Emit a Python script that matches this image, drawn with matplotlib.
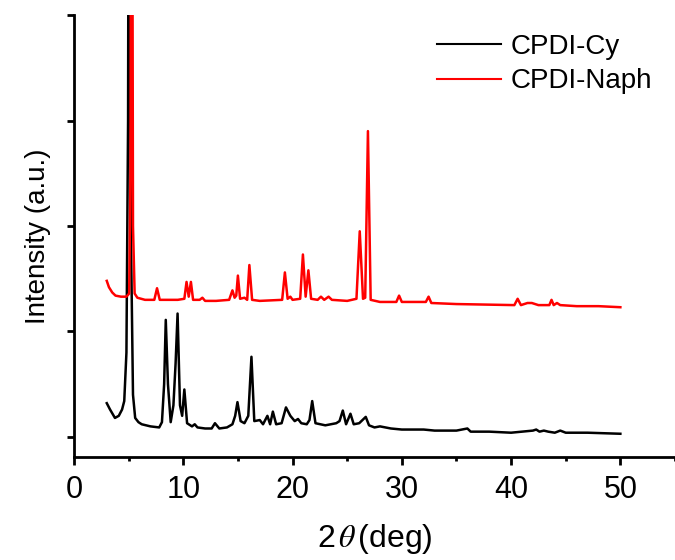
import matplotlib
matplotlib.use("Agg")
import matplotlib.pyplot as plt
from matplotlib.ticker import MultipleLocator, NullFormatter

plt.rcParams['font.family'] = ['Liberation Sans', 'DejaVu Sans']
plt.rcParams['mathtext.fontset'] = 'stix'

# -------------------------
# XRD patterns (2theta in deg, intensity in arb. offset units)
# -------------------------
cy_2theta = [3.0, 3.3, 3.75, 4.1, 4.4, 4.6, 4.8, 4.95, 5.05, 5.2, 5.4, 5.6, 5.9, 6.2, 7.0, 7.8,
             8.05, 8.25, 8.4, 8.6, 8.85, 9.1, 9.3, 9.48, 9.7, 9.9, 10.1, 10.35, 10.8, 11.05, 11.3,
             12.0, 12.6, 12.9, 13.3, 14.0, 14.5, 14.75, 14.96, 15.25, 15.6, 15.95, 16.24, 16.5,
             17.0, 17.3, 17.7, 17.95, 18.2, 18.5, 19.0, 19.4, 19.8, 20.2, 20.5, 20.8, 21.3, 21.55,
             21.8, 22.1, 23.0, 24.0, 24.3, 24.6, 24.9, 25.3, 25.6, 26.1, 26.7, 27.0, 27.5, 28.0,
             29.0, 30.0, 31.0, 32.0, 33.0, 34.0, 35.0, 36.0, 36.3, 38.0, 40.0, 42.0, 42.3, 42.6,
             43.0, 43.4, 44.0, 44.5, 45.0, 47.0, 50.0]
cy_int = [0.32, 0.26, 0.18, 0.20, 0.26, 0.34, 0.80, 3.00, 9.00, 2.00, 0.40, 0.18, 0.14, 0.12, 0.10, 0.09,
          0.14, 0.50, 1.11, 0.50, 0.14, 0.30, 0.70, 1.17, 0.30, 0.20, 0.45, 0.13, 0.10, 0.12, 0.09,
          0.08, 0.08, 0.13, 0.08, 0.09, 0.12, 0.20, 0.33, 0.15, 0.13, 0.20, 0.76, 0.15,
          0.16, 0.12, 0.20, 0.12, 0.24, 0.12, 0.13, 0.28, 0.20, 0.15, 0.17, 0.13, 0.12, 0.16,
          0.34, 0.13, 0.11, 0.13, 0.15, 0.25, 0.12, 0.22, 0.12, 0.13, 0.19, 0.11, 0.09, 0.10,
          0.08, 0.07, 0.07, 0.07, 0.06, 0.06, 0.06, 0.08, 0.05, 0.05, 0.04, 0.06, 0.07, 0.05,
          0.06, 0.05, 0.04, 0.06, 0.04, 0.04, 0.03]

naph_2theta = [3.0, 3.2, 3.5, 3.8, 4.3, 4.8, 5.05, 5.17, 5.27, 5.4, 5.55, 5.8, 6.5, 7.35, 7.6, 7.85,
               9.5, 10.1, 10.3, 10.5, 10.7, 10.9, 11.5, 11.75, 12.0, 13.0, 14.2, 14.5, 14.7, 14.85,
               15.0, 15.2, 15.6, 15.85, 16.05, 16.3, 17.0, 19.05, 19.3, 19.55, 19.8, 20.0, 20.7,
               20.95, 21.2, 21.45, 21.7, 22.3, 22.6, 22.9, 23.3, 23.6, 25.0, 25.85, 26.15, 26.45,
               26.65, 26.9, 27.15, 28.0, 29.5, 29.75, 30.0, 32.2, 32.45, 32.7, 35.0, 40.3, 40.6,
               40.9, 41.5, 41.9, 42.5, 43.5, 43.7, 43.9, 44.2, 44.5, 46.0, 48.0, 50.0]
naph_int = [1.48, 1.42, 1.37, 1.34, 1.33, 1.33, 1.36, 2.50, 9.00, 2.00, 1.36, 1.32, 1.30, 1.30, 1.41, 1.30,
            1.30, 1.31, 1.47, 1.33, 1.47, 1.30, 1.30, 1.32, 1.29, 1.29, 1.30, 1.39, 1.32, 1.34,
            1.53, 1.31, 1.32, 1.30, 1.63, 1.30, 1.29, 1.30, 1.56, 1.31, 1.33, 1.30, 1.31,
            1.73, 1.33, 1.58, 1.31, 1.30, 1.33, 1.30, 1.33, 1.30, 1.29, 1.31, 1.95, 1.31,
            1.32, 2.90, 1.30, 1.28, 1.28, 1.34, 1.28, 1.28, 1.33, 1.27, 1.26, 1.25, 1.31,
            1.25, 1.27, 1.27, 1.25, 1.25, 1.30, 1.25, 1.27, 1.25, 1.24, 1.24, 1.23]

fig = plt.figure(figsize=(6.75, 5.6), dpi=100)
ax = fig.add_axes([0.1096, 0.184, 0.8904, 0.789])

ax.plot(cy_2theta, cy_int, color='black', lw=1.8, label='CPDI-Cy')
ax.plot(naph_2theta, naph_int, color='#ff0000', lw=1.8, label='CPDI-Naph')

ax.set_xlim(0, 55)
ax.set_ylim(-0.19, 4)

for side in ['top', 'right']:
    ax.spines[side].set_visible(False)
for side in ['left', 'bottom']:
    ax.spines[side].set_linewidth(2.0)

ax.xaxis.set_major_locator(MultipleLocator(10))
ax.xaxis.set_minor_locator(MultipleLocator(5))
ax.yaxis.set_major_locator(MultipleLocator(1))
ax.yaxis.set_major_formatter(NullFormatter())
ax.tick_params(axis='x', which='major', length=6, width=2, labelsize=22, pad=7)
ax.tick_params(axis='x', which='minor', length=3, width=2)
ax.tick_params(axis='y', which='major', length=5, width=2)

ax.set_xlabel(r'2$\,\it{\theta}\,$(deg)', fontsize=23, labelpad=12)
ax.set_ylabel('Intensity (a.u.)', fontsize=20, labelpad=8)

leg = ax.legend(loc='upper right', bbox_to_anchor=(652 / 675, 1 - 34 / 560),
                bbox_transform=fig.transFigure, frameon=False, fontsize=20,
                handlelength=2.3, handletextpad=0.35, labelspacing=0.3,
                borderpad=0, borderaxespad=0)
for line in leg.get_lines():
    line.set_linewidth(1.5)

fig.savefig('out.png', dpi=100)
